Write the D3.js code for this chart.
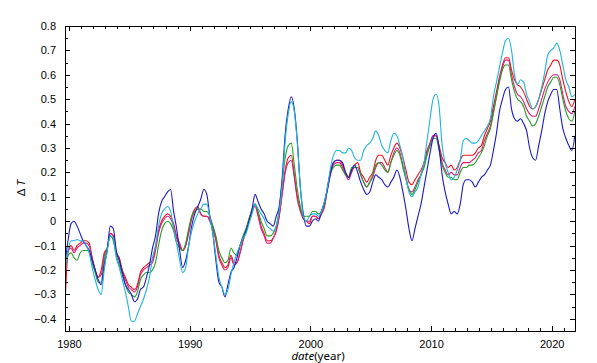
<!DOCTYPE html>
<html>
<head>
<meta charset="utf-8">
<script src="https://cdn.jsdelivr.net/npm/d3@7"></script>
<style>
  html, body { margin: 0; padding: 0; background: #fff; }
  svg { display: block; font-family: "Noto Sans", "DejaVu Sans", sans-serif; }
  .axis path, .axis line { stroke: #000; shape-rendering: crispEdges; }
  .axis text { font-size: 11px; fill: #000; }
</style>
</head>
<body>
<svg id="chart" width="597" height="363"></svg>
<script>
// quarterly samples, first point at 1979.67
var T0 = 1979.67, DT = 0.25;

var xTicks = [1980, 1990, 2000, 2010, 2020];
var yTicks = [-0.4, -0.3, -0.2, -0.1, 0, 0.1, 0.2, 0.3, 0.4, 0.5, 0.6, 0.7, 0.8];

var redVals = [
  -0.35,-0.13,
  -0.10,-0.12,-0.10,-0.09, -0.08,-0.08,-0.09,-0.15, -0.20,-0.23,-0.20,-0.13, -0.11,-0.05,-0.06,-0.13,
  -0.15,-0.20,-0.23,-0.26, -0.27,-0.28,-0.26,-0.21, -0.19,-0.18,-0.17,-0.16, -0.11,-0.04,0.00,0.02,
  0.03,0.02,-0.01,-0.06, -0.09,-0.12,-0.10,-0.04, 0.02,0.05,0.06,0.03, 0.02,0.02,0.01,-0.02,
  -0.07,-0.14,-0.17,-0.19, -0.18,-0.14,-0.17,-0.17, -0.13,-0.08,-0.04,0.01, 0.04,0.07,0.03,-0.02,
  -0.05,-0.08,-0.08,-0.07, -0.04,0.02,0.12,0.21, 0.26,0.27,0.19,0.10, 0.05,0.01,0.00,-0.01,
  0.02,0.02,0.01,0.03, 0.06,0.14,0.20,0.24, 0.25,0.25,0.23,0.20, 0.18,0.21,0.23,0.24,
  0.20,0.18,0.16,0.18, 0.20,0.25,0.27,0.27, 0.25,0.23,0.27,0.30, 0.32,0.30,0.26,0.21,
  0.16,0.15,0.17,0.19, 0.21,0.24,0.29,0.32, 0.35,0.35,0.31,0.26, 0.24,0.22,0.23,0.21,
  0.22,0.25,0.27,0.27, 0.27,0.27,0.28,0.30, 0.31,0.35,0.38,0.41, 0.47,0.53,0.59,0.64,
  0.67,0.67,0.62,0.58, 0.56,0.55,0.53,0.50, 0.47,0.46,0.47,0.50, 0.54,0.58,0.62,0.64,
  0.66,0.66,0.64,0.58, 0.53,0.49,0.47,0.50
];

var magentaVals = [
  -0.22,-0.12,
  -0.11,-0.13,-0.11,-0.10, -0.09,-0.09,-0.10,-0.15, -0.20,-0.23,-0.22,-0.14, -0.11,-0.05,-0.06,-0.13,
  -0.16,-0.21,-0.24,-0.27, -0.28,-0.29,-0.27,-0.22, -0.20,-0.19,-0.18,-0.17, -0.12,-0.05,-0.01,0.01,
  0.02,0.01,-0.02,-0.07, -0.10,-0.12,-0.10,-0.05, 0.01,0.04,0.05,0.03, 0.02,0.02,0.00,-0.03,
  -0.08,-0.15,-0.18,-0.20, -0.19,-0.15,-0.18,-0.17, -0.13,-0.08,-0.04,0.00, 0.04,0.06,0.02,-0.03,
  -0.06,-0.09,-0.09,-0.07, -0.04,0.02,0.11,0.20, 0.24,0.25,0.18,0.09, 0.04,0.01,0.00,0.00,
  0.02,0.02,0.01,0.03, 0.06,0.13,0.19,0.23, 0.24,0.24,0.22,0.19, 0.17,0.20,0.22,0.22,
  0.19,0.16,0.14,0.16, 0.18,0.22,0.24,0.24, 0.22,0.20,0.24,0.28, 0.30,0.28,0.23,0.18,
  0.13,0.12,0.14,0.17, 0.19,0.23,0.28,0.32, 0.35,0.35,0.30,0.24, 0.21,0.19,0.20,0.19,
  0.19,0.22,0.24,0.24, 0.24,0.25,0.26,0.28, 0.29,0.33,0.36,0.39, 0.45,0.51,0.58,0.63,
  0.66,0.66,0.60,0.55, 0.52,0.51,0.49,0.46, 0.44,0.43,0.43,0.46, 0.50,0.54,0.57,0.59,
  0.60,0.60,0.58,0.52, 0.47,0.45,0.44,0.47
];

var greenVals = [
  -0.20,-0.14,
  -0.13,-0.15,-0.16,-0.13, -0.12,-0.12,-0.12,-0.17, -0.21,-0.25,-0.25,-0.16, -0.11,-0.06,-0.08,-0.14,
  -0.18,-0.22,-0.26,-0.29, -0.30,-0.31,-0.29,-0.24, -0.22,-0.21,-0.21,-0.20, -0.17,-0.10,-0.04,-0.01,
  0.00,-0.01,-0.04,-0.09, -0.11,-0.12,-0.09,-0.03, 0.02,0.04,0.05,0.05, 0.04,0.04,0.02,-0.02,
  -0.06,-0.12,-0.15,-0.17, -0.16,-0.11,-0.13,-0.14, -0.10,-0.06,-0.03,0.01, 0.05,0.07,0.04,0.00,
  -0.03,-0.06,-0.06,-0.05, -0.02,0.05,0.16,0.26, 0.31,0.32,0.23,0.13, 0.06,0.02,0.02,0.02,
  0.04,0.04,0.03,0.04, 0.07,0.14,0.20,0.22, 0.23,0.23,0.21,0.19, 0.18,0.22,0.22,0.22,
  0.19,0.16,0.14,0.16, 0.19,0.23,0.24,0.23, 0.21,0.20,0.24,0.27, 0.29,0.27,0.22,0.17,
  0.13,0.11,0.13,0.16, 0.19,0.22,0.27,0.31, 0.34,0.34,0.29,0.23, 0.20,0.18,0.18,0.17,
  0.17,0.20,0.22,0.22, 0.23,0.23,0.24,0.26, 0.28,0.31,0.35,0.38, 0.44,0.51,0.57,0.62,
  0.64,0.64,0.58,0.53, 0.50,0.49,0.47,0.43, 0.41,0.39,0.40,0.43, 0.47,0.51,0.55,0.57,
  0.59,0.59,0.56,0.50, 0.45,0.42,0.41,0.45
];

var blueVals = [
  -0.17,-0.08,
  -0.01,0.00,-0.02,-0.05, -0.08,-0.10,-0.12,-0.16, -0.20,-0.24,-0.26,-0.18, -0.12,-0.02,-0.03,-0.12,
  -0.16,-0.21,-0.26,-0.28, -0.30,-0.33,-0.32,-0.28, -0.27,-0.23,-0.18,-0.11, -0.06,0.03,0.08,0.10,
  0.12,0.13,0.04,-0.03, -0.12,-0.19,-0.16,-0.10, -0.02,0.03,0.06,0.09, 0.13,0.11,0.02,-0.05,
  -0.16,-0.25,-0.27,-0.31, -0.26,-0.21,-0.19,-0.15, -0.10,-0.07,-0.04,0.00, 0.05,0.11,0.08,0.05,
  0.03,0.00,-0.01,-0.02, 0.02,0.06,0.18,0.36, 0.46,0.51,0.46,0.33, 0.14,0.03,-0.02,-0.02,
  0.00,0.01,0.00,0.04, 0.08,0.13,0.20,0.24, 0.25,0.25,0.24,0.20, 0.18,0.21,0.23,0.20,
  0.16,0.13,0.11,0.12, 0.16,0.19,0.18,0.17, 0.15,0.14,0.16,0.18, 0.21,0.18,0.12,0.05,
  -0.03,-0.08,-0.03,0.02, 0.07,0.14,0.21,0.28, 0.34,0.36,0.30,0.19, 0.12,0.07,0.03,0.04,
  0.03,0.07,0.15,0.17, 0.17,0.16,0.14,0.16, 0.18,0.19,0.21,0.23, 0.29,0.36,0.45,0.50,
  0.54,0.55,0.46,0.42, 0.41,0.42,0.40,0.37, 0.30,0.26,0.25,0.31, 0.37,0.44,0.49,0.52,
  0.54,0.54,0.46,0.38, 0.34,0.31,0.29,0.35
];

var cyanVals = [
  -0.20,-0.12,
  -0.08,-0.08,-0.075,-0.08, -0.08,-0.10,-0.13,-0.19, -0.24,-0.28,-0.30,-0.20, -0.12,-0.06,-0.07,-0.15,
  -0.19,-0.24,-0.29,-0.35, -0.41,-0.41,-0.38,-0.35, -0.32,-0.28,-0.23,-0.15, -0.10,-0.02,0.03,0.05,
  0.06,0.04,-0.03,-0.09, -0.16,-0.21,-0.19,-0.10, -0.04,0.00,0.03,0.05, 0.07,0.07,0.02,-0.05,
  -0.14,-0.23,-0.27,-0.30, -0.28,-0.22,-0.17,-0.13, -0.10,-0.07,-0.05,-0.01, 0.03,0.07,0.05,0.03,
  0.01,-0.02,-0.03,-0.04, -0.02,0.04,0.15,0.33, 0.44,0.49,0.45,0.32, 0.14,0.02,0.00,0.02,
  0.03,0.03,0.02,0.04, 0.08,0.14,0.22,0.27, 0.29,0.29,0.28,0.28, 0.30,0.29,0.26,0.25,
  0.25,0.29,0.31,0.32, 0.34,0.37,0.35,0.31, 0.29,0.28,0.33,0.36, 0.35,0.31,0.26,0.18,
  0.12,0.10,0.12,0.14, 0.19,0.24,0.33,0.42, 0.50,0.52,0.47,0.31, 0.24,0.20,0.17,0.18,
  0.21,0.25,0.33,0.34, 0.33,0.32,0.32,0.33, 0.35,0.37,0.39,0.42, 0.51,0.57,0.63,0.69,
  0.74,0.75,0.70,0.60, 0.56,0.58,0.57,0.52, 0.49,0.46,0.47,0.50, 0.55,0.61,0.68,0.70,
  0.71,0.73,0.70,0.64, 0.58,0.55,0.51,0.52
];

var seriesColors = ['#e8141c', '#e0187a', '#22a022', '#1a1ac8', '#1eb4dc'];
var seriesVals = [redVals, magentaVals, greenVals, blueVals, cyanVals];

var W = 597, H = 363;
var margin = { left: 65, right: 22, top: 26, bottom: 32 };

var svg = d3.select('#chart');
svg.append('rect').attr('width', W).attr('height', H).attr('fill', '#fff');

var x = d3.scaleLinear().domain([1979.67, 2021.93]).range([margin.left, W - margin.right]);
var y = d3.scaleLinear().domain([-0.45, 0.8]).range([H - margin.bottom, margin.top]);

function fmtY(d) { return Math.abs(d) < 1e-9 ? '0' : d3.format('.1f')(d); }

var xMinor = d3.range(1980, 2022).filter(function(d) { return xTicks.indexOf(d) < 0; });
var yMinor = d3.range(-9, 16).map(function(k) { return k * 0.05; })
  .filter(function(d) { return Math.round(d * 100) % 10 !== 0; });

// lines, clipped to the frame
svg.append('clipPath').attr('id', 'clip').append('rect')
  .attr('x', margin.left).attr('y', margin.top)
  .attr('width', W - margin.left - margin.right).attr('height', H - margin.top - margin.bottom);

var line = d3.line()
  .x(function(d, i) { return x(T0 + i * DT); })
  .y(function(d) { return y(d); })
  .curve(d3.curveMonotoneX);

var g = svg.append('g').attr('clip-path', 'url(#clip)');
seriesVals.forEach(function(vals, k) {
  g.append('path')
    .attr('d', line(vals))
    .attr('fill', 'none')
    .attr('stroke', seriesColors[k])
    .attr('stroke-width', 1.1);
});

// axes, ticks pointing inward on all four sides
var yb = H - margin.bottom, xr = W - margin.right;

svg.append('g').attr('class', 'axis').attr('transform', 'translate(0,' + yb + ')')
  .call(d3.axisBottom(x).tickValues(xTicks).tickSize(-5).tickPadding(9).tickFormat(d3.format('d')));
svg.append('g').attr('class', 'axis').attr('transform', 'translate(0,' + yb + ')')
  .call(d3.axisBottom(x).tickValues(xMinor).tickSize(-3).tickFormat(''));
svg.append('g').attr('class', 'axis').attr('transform', 'translate(0,' + margin.top + ')')
  .call(d3.axisTop(x).tickValues(xTicks).tickSize(-5).tickFormat(''));
svg.append('g').attr('class', 'axis').attr('transform', 'translate(0,' + margin.top + ')')
  .call(d3.axisTop(x).tickValues(xMinor).tickSize(-3).tickFormat(''));

svg.append('g').attr('class', 'axis').attr('transform', 'translate(' + margin.left + ',0)')
  .call(d3.axisLeft(y).tickValues(yTicks).tickSize(-5).tickPadding(9).tickFormat(fmtY));
svg.append('g').attr('class', 'axis').attr('transform', 'translate(' + margin.left + ',0)')
  .call(d3.axisLeft(y).tickValues(yMinor).tickSize(-3).tickFormat(''));
svg.append('g').attr('class', 'axis').attr('transform', 'translate(' + xr + ',0)')
  .call(d3.axisRight(y).tickValues(yTicks).tickSize(-5).tickFormat(''));
svg.append('g').attr('class', 'axis').attr('transform', 'translate(' + xr + ',0)')
  .call(d3.axisRight(y).tickValues(yMinor).tickSize(-3).tickFormat(''));

// axis titles
var xt = svg.append('text')
  .attr('x', (margin.left + xr) / 2 - 2).attr('y', H - 3)
  .attr('text-anchor', 'middle').attr('font-size', 11.5);
xt.append('tspan').attr('font-style', 'italic').text('date');
xt.append('tspan').text('(year)');

var yt = svg.append('text')
  .attr('transform', 'translate(25,188) rotate(-90)')
  .attr('text-anchor', 'middle').attr('font-size', 11.5);
yt.append('tspan').text('Δ ');
yt.append('tspan').attr('font-style', 'italic').text('T');
</script>
</body>
</html>
